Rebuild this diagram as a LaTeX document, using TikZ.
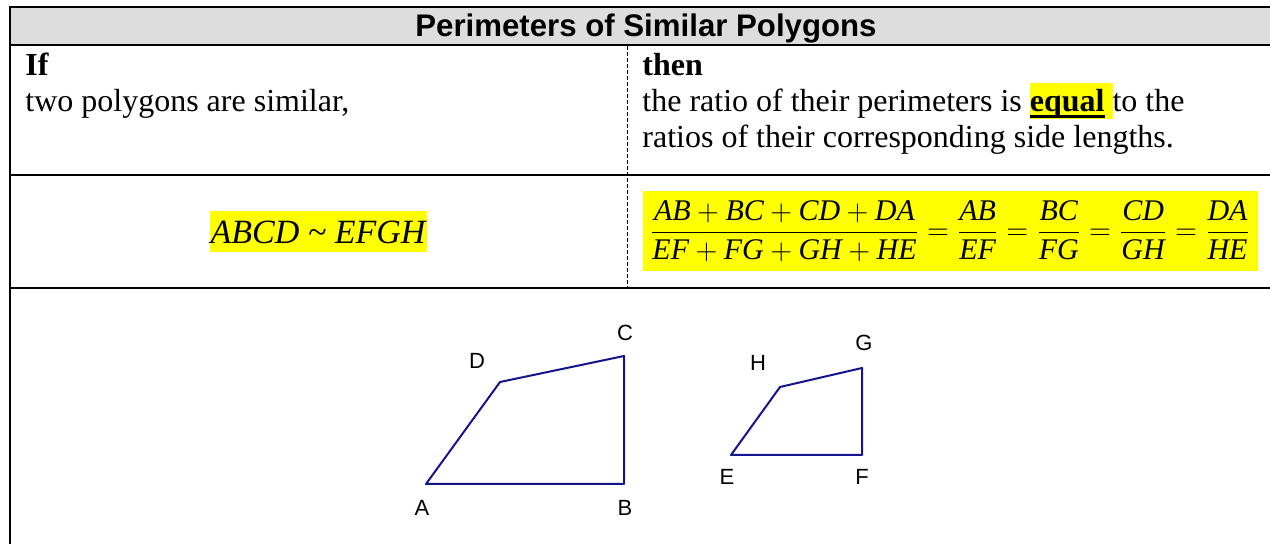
\documentclass[tikz,border=0pt]{standalone}
\usepackage{fontspec}
\setmainfont{Liberation Serif}
\setsansfont{Liberation Sans}
\usepackage{tikz}
\usetikzlibrary{positioning}
\definecolor{hdrgray}{RGB}{221,221,221}
\definecolor{hlyellow}{RGB}{255,255,0}
\definecolor{polyblue}{RGB}{20,20,140}
\newcommand{\sidelen}[1]{\textit{#1}}
\newcommand{\thickul}[1]{\setbox0\hbox{#1}\rlap{\rule[-3.2pt]{\wd0}{1.5pt}}\box0}

\begin{document}
\begin{tikzpicture}[x=0.5pt,y=-0.5pt,
    rule/.style={line width=0.8pt},
    celltext/.style={anchor=base west,inner sep=0pt,font=\fontsize{16}{18}\selectfont},
    hl/.style={fill=hlyellow,inner sep=0pt},
    vlabel/.style={inner sep=0pt,font=\sffamily\fontsize{11}{13}\selectfont}]
    \useasboundingbox (0,0) rectangle (1270,544);
    % header
    \fill[hdrgray] (10,7) rectangle (1270,45);
    \node[anchor=base,inner sep=0pt,font=\sffamily\bfseries\fontsize{15.6}{17}\selectfont] (title) at (646,37) {Perimeters of Similar Polygons};
    % table rules
    \draw[rule] (1270,7) -- (10,7) -- (10,544);
    \draw[rule] (10,45) -- (1270,45);
    \draw[rule] (10,175) -- (1270,175);
    \draw[rule] (10,288) -- (1270,288);
    \draw[line width=0.5pt,dash pattern=on 2pt off 1pt] (627,46) -- (627,288);
    % if / then
    \node[celltext,font={\bfseries\fontsize{16}{18}\selectfont}] (if) at (25,76) {If};
    \node[celltext] (iftext) at (25,112) {two polygons are similar,};
    \node[celltext,font={\bfseries\fontsize{16}{18}\selectfont}] (then) at (642,76) {then};
    \node[celltext] (thentexta) at (642,112) {the ratio of their perimeters is {\setlength{\fboxsep}{0pt}\colorbox{hlyellow}{\rule[-3.7pt]{0pt}{18pt}\thickul{\textbf{equal}}\hspace{4pt}}}to the};
    \node[celltext] (thentextb) at (642,148) {ratios of their corresponding side lengths.};
    % similarity statement and ratios
    \node[hl,minimum width=108.5pt,minimum height=20.5pt,font={\itshape\fontsize{17}{20}\selectfont}] (simtext) at (318,232) {ABCD \textasciitilde\ EFGH};
    \node[hl,minimum width=307.5pt,minimum height=40pt,font=\fontsize{15}{18}\selectfont] (ratios) at (950,231)
      {$\displaystyle\frac{\sidelen{AB}+\sidelen{BC}+\sidelen{CD}+\sidelen{DA}}{\sidelen{EF}+\sidelen{FG}+\sidelen{GH}+\sidelen{HE}}
        =\frac{\sidelen{AB}}{\sidelen{EF}}=\frac{\sidelen{BC}}{\sidelen{FG}}=\frac{\sidelen{CD}}{\sidelen{GH}}=\frac{\sidelen{DA}}{\sidelen{HE}}$};
    % polygons
    \coordinate (A) at (426,484);
    \coordinate (B) at (624,484);
    \coordinate (C) at (624,356);
    \coordinate (D) at (500,382);
    \coordinate (E) at (731,455);
    \coordinate (F) at (862,455);
    \coordinate (G) at (862,368);
    \coordinate (H) at (780,387);
    \draw[polyblue,line width=1pt,line join=round] (A) -- (B) -- (C) -- (D) -- cycle;
    \draw[polyblue,line width=1pt,line join=round] (E) -- (F) -- (G) -- (H) -- cycle;
    \node[vlabel] (labA) at (422,508) {A};
    \node[vlabel] (labB) at (625,508) {B};
    \node[vlabel] (labC) at (625,333) {C};
    \node[vlabel] (labD) at (477,361) {D};
    \node[vlabel] (labE) at (727,477) {E};
    \node[vlabel] (labF) at (862,477) {F};
    \node[vlabel] (labG) at (864,343) {G};
    \node[vlabel] (labH) at (758,363) {H};
  \end{tikzpicture}
\end{document}
